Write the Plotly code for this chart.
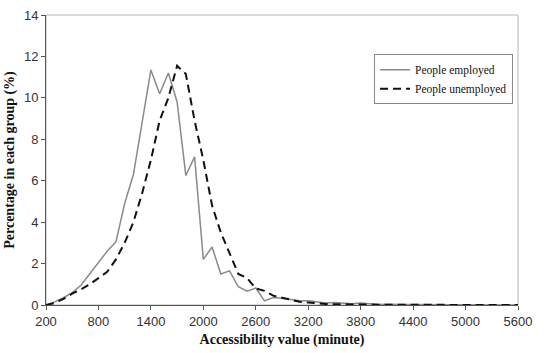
import plotly.graph_objects as go

# Accessibility bins (minutes)
minutes = list(range(200, 5700, 100))

employed = [0, 0.15, 0.35, 0.6, 0.95, 1.5, 2.0, 2.6, 3.05, 4.9, 6.3, 8.8, 11.35, 10.2, 11.2, 9.8,
            6.25, 7.15, 2.2, 2.8, 1.5, 1.65, 0.88, 0.67, 0.82, 0.2, 0.36, 0.33, 0.25, 0.2,
            0.2, 0.15, 0.1, 0.12, 0.1, 0.06, 0.1, 0.05, 0.03, 0.04, 0.02, 0.03, 0.02, 0.01,
            0.02, 0.01, 0.01, 0.01, 0.0, 0.01, 0.0, 0.0, 0.0, 0.0, 0.0]

unemployed = [0, 0.1, 0.3, 0.55, 0.75, 1.0, 1.3, 1.6, 2.2, 3.0, 4.0, 5.4, 7.0, 8.9, 10.0, 11.55,
              11.15, 8.9, 7.0, 4.8, 3.5, 2.5, 1.5, 1.3, 0.8, 0.68, 0.45, 0.35, 0.25, 0.16,
              0.12, 0.08, 0.05, 0.04, 0.03, 0.03, 0.02, 0.02, 0.02, 0.01, 0.01, 0.01, 0.01, 0.01,
              0.0, 0.0, 0.0, 0.0, 0.0, 0.0, 0.0, 0.0, 0.0, 0.0, 0.0]

x_ticks = list(range(200, 5700, 600))
y_ticks = list(range(0, 16, 2))

fig = go.Figure()
fig.add_trace(go.Scatter(x=minutes, y=employed, mode="lines", name="People employed",
                         line=dict(color="#8a8a8a", width=1.5)))
fig.add_trace(go.Scatter(x=minutes, y=unemployed, mode="lines", name="People unemployed",
                         line=dict(color="#111111", width=2, dash="8px,5px")))

fig.update_layout(
    width=554, height=353,
    margin=dict(l=42, r=36, t=8, b=48),
    paper_bgcolor="white", plot_bgcolor="white",
    showlegend=True,
    legend=dict(x=0.695, y=0.865, xanchor="left", yanchor="top",
                bordercolor="#888888", borderwidth=1, bgcolor="white",
                font=dict(family="Liberation Serif", size=11.5, color="#111111"),
                tracegroupgap=0, itemwidth=30),
    shapes=[dict(type="rect", xref="paper", yref="paper", x0=0, y0=0, x1=1, y1=1,
                 line=dict(color="#b5b5b5", width=1), layer="below")],
)

fig.update_xaxes(range=[200, 5600], tickvals=x_ticks, ticktext=[str(v) for v in x_ticks],
                 showgrid=False, zeroline=False, showline=True, linecolor="#555555", linewidth=1,
                 ticks="outside", ticklen=4, tickcolor="#555555",
                 tickfont=dict(family="Liberation Sans", size=13, color="#333333"),
                 title=dict(text="Accessibility value (minute)", standoff=6,
                            font=dict(family="Liberation Serif", size=14, color="#111111",
                                      weight="bold")))
fig.update_yaxes(range=[0, 14], tickvals=y_ticks, ticktext=[str(v) for v in y_ticks],
                 showgrid=False, zeroline=False, showline=True, linecolor="#555555", linewidth=1,
                 ticks="outside", ticklen=4, tickcolor="#555555",
                 tickfont=dict(family="Liberation Sans", size=13, color="#333333"),
                 title=dict(text="Percentage in each group (%)", standoff=6,
                            font=dict(family="Liberation Serif", size=14, color="#111111",
                                      weight="bold")))

fig.write_html("out.html")
